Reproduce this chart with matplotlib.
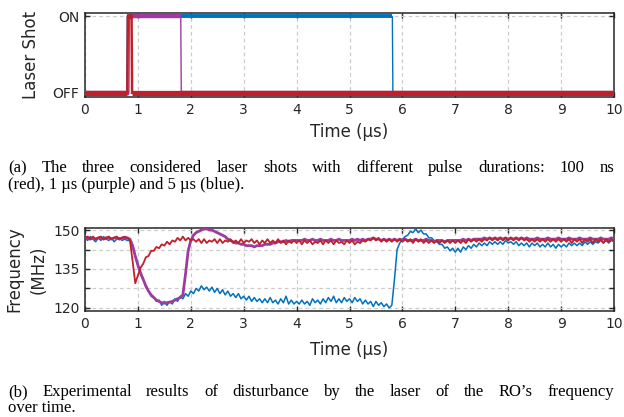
import numpy as np
import matplotlib
matplotlib.use("Agg")
import matplotlib.pyplot as plt

# ---------------- data ----------------
time_step_us = 0.05  # sampling step of the frequency traces

freq_blue = [
    147.0, 146.0, 147.5, 146.5, 145.5, 147.0, 146.0, 147.5, 146.5, 146.0, 147.0, 145.5, 146.5, 147.0, 146.0, 146.5, 146.0, 146.0, 143.5, 140.0,
    136.5, 133.0, 131.0, 128.0, 126.5, 124.5, 124.0, 122.5, 123.0, 121.0, 122.5, 121.0, 122.5, 121.5, 123.5, 122.5, 124.5, 123.5, 125.5, 124.5,
    126.5, 125.5, 127.5, 126.5, 128.5, 127.0, 128.0, 126.5, 128.0, 126.0, 127.5, 125.5, 127.0, 125.0, 126.5, 124.5, 125.5, 124.0, 125.5, 123.5,
    124.5, 123.0, 124.5, 122.5, 124.0, 122.5, 123.5, 122.0, 123.5, 122.0, 124.0, 122.0, 123.0, 121.5, 123.5, 122.0, 124.5, 121.5, 123.0, 121.5,
    122.5, 121.5, 123.0, 121.5, 122.5, 121.0, 123.5, 122.0, 123.0, 121.5, 123.5, 122.0, 124.0, 122.5, 124.5, 122.0, 123.5, 122.0, 124.0, 122.5,
    123.5, 122.0, 124.0, 122.5, 123.5, 121.5, 123.0, 121.5, 122.5, 120.5, 122.5, 121.0, 122.0, 120.5, 121.5, 120.0, 121.0, 131.0, 142.5, 145.0,
    146.5, 147.5, 148.0, 149.5, 149.0, 150.5, 149.0, 150.0, 148.5, 148.5, 147.0, 147.0, 146.0, 145.5, 144.5, 144.5, 143.0, 143.5, 142.0, 143.0,
    141.5, 143.0, 141.5, 143.5, 142.5, 144.0, 143.0, 144.5, 143.5, 145.0, 144.0, 145.0, 144.0, 145.5, 144.5, 145.5, 144.5, 145.5, 144.5, 146.0,
    145.0, 145.5, 144.5, 145.5, 144.0, 145.0, 144.0, 145.0, 143.5, 145.0, 144.0, 145.0, 143.5, 144.5, 143.5, 145.0, 143.5, 144.5, 143.0, 144.5,
    143.5, 144.5, 143.5, 145.0, 144.0, 145.0, 144.0, 145.0, 144.0, 145.5, 144.5, 145.5, 144.5, 145.5, 145.0, 146.0, 145.0, 146.0, 145.0, 146.0,
    145.5,
]

freq_purple = [
    147.0, 147.0, 146.5, 147.0, 146.5, 147.0, 147.0, 146.5, 147.0, 147.0, 146.5, 147.0, 147.0, 146.5, 147.0, 147.0, 147.0, 146.5, 144.0, 140.0,
    136.5, 133.5, 131.0, 128.5, 126.5, 125.0, 124.0, 123.0, 122.5, 122.0, 121.8, 122.0, 122.2, 122.5, 123.0, 123.5, 124.0, 125.0, 133.0, 142.0,
    146.0, 148.0, 149.0, 149.5, 150.0, 150.5, 150.5, 150.0, 150.0, 149.5, 149.0, 148.5, 148.0, 147.5, 146.5, 146.0, 145.5, 145.0, 145.0, 144.5,
    144.5, 144.0, 144.0, 144.0, 143.5, 144.0, 144.0, 144.0, 144.5, 144.5, 144.5, 145.0, 145.0, 145.5, 145.5, 145.5, 146.0, 145.5, 146.0, 146.0,
    146.0, 146.0, 146.0, 146.5, 146.0, 146.0, 146.5, 146.0, 146.0, 146.5, 146.0, 146.0, 146.0, 146.5, 146.0, 146.0, 146.5, 146.0, 146.0, 146.0,
    146.0, 146.5, 146.0, 146.5, 146.0, 146.5, 146.0, 146.5, 146.5, 147.0, 146.5, 146.5, 146.0, 146.5, 146.0, 146.5, 146.0, 146.5, 146.0, 146.5,
    146.0, 146.5, 146.0, 146.0, 146.0, 146.5, 146.0, 146.0, 146.0, 146.5, 146.0, 146.0, 145.5, 146.0, 146.0, 146.0, 145.5, 146.0, 146.0, 146.0,
    146.0, 146.0, 146.0, 146.5, 146.0, 146.5, 146.0, 146.5, 146.5, 146.5, 146.5, 147.0, 146.5, 147.0, 146.5, 147.0, 146.5, 147.0, 146.5, 147.0,
    146.5, 147.0, 146.5, 147.0, 146.5, 147.0, 146.5, 147.0, 146.5, 146.5, 146.5, 147.0, 146.5, 146.5, 146.5, 147.0, 146.5, 146.5, 146.5, 147.0,
    146.5, 146.5, 146.5, 147.0, 146.5, 146.5, 146.5, 147.0, 146.5, 146.5, 146.5, 147.0, 146.5, 146.5, 146.5, 147.0, 146.5, 146.5, 146.5, 147.0,
    146.5,
]

freq_red = [
    147.0, 147.5, 146.5, 147.5, 146.5, 147.0, 147.5, 146.5, 147.0, 147.5, 146.5, 147.0, 147.5, 146.5, 147.0, 147.5, 147.0, 146.0, 138.0, 129.5,
    132.5, 135.5, 137.0, 139.5, 140.0, 142.0, 142.0, 143.5, 143.0, 144.5, 144.0, 145.5, 144.5, 146.0, 145.5, 147.0, 146.0, 147.5, 146.0, 147.0,
    146.0, 146.5, 145.5, 146.5, 145.0, 146.5, 145.0, 146.0, 145.5, 146.5, 145.0, 146.5, 145.0, 146.0, 145.5, 146.5, 145.0, 146.0, 145.0, 146.5,
    145.0, 146.0, 145.5, 146.5, 145.0, 146.0, 144.5, 146.0, 145.0, 146.5, 145.0, 146.0, 145.0, 146.5, 145.0, 146.0, 144.5, 146.0, 145.0, 146.0,
    145.0, 146.0, 144.5, 146.0, 145.0, 146.0, 144.5, 145.5, 145.0, 146.0, 144.5, 146.0, 145.0, 146.0, 144.5, 146.0, 145.0, 145.5, 144.5, 146.0,
    145.0, 146.0, 144.5, 145.5, 145.0, 146.0, 145.5, 146.5, 146.0, 147.0, 146.0, 147.0, 145.5, 146.5, 145.5, 146.5, 145.5, 146.5, 145.5, 146.5,
    145.5, 146.5, 145.5, 146.5, 145.0, 146.5, 145.5, 146.5, 145.0, 146.0, 145.0, 146.0, 145.0, 146.0, 145.0, 146.0, 145.0, 146.0, 145.0, 146.0,
    145.0, 146.0, 145.0, 146.0, 145.0, 146.5, 145.5, 146.5, 145.5, 146.5, 145.5, 146.5, 146.0, 147.0, 146.0, 147.0, 146.0, 147.0, 146.0, 147.0,
    146.0, 147.0, 146.0, 147.0, 146.0, 147.0, 146.0, 146.5, 145.5, 146.5, 145.5, 146.5, 145.5, 146.5, 145.5, 146.5, 145.5, 146.5, 145.5, 146.5,
    145.5, 146.5, 145.5, 146.5, 145.0, 146.5, 145.5, 146.5, 145.0, 146.5, 145.5, 146.5, 145.0, 146.5, 145.5, 146.5, 145.0, 146.5, 145.5, 146.5,
    146.0,
]

# laser shot (0 = OFF, 1 = ON) as step points
shot_blue_t = [0.0, 0.79, 0.80, 5.81, 5.82, 10.0]
shot_blue = [0, 0, 1, 1, 0, 0]
shot_purple_t = [0.0, 0.83, 0.84, 1.81, 1.82, 10.0]
shot_purple = [0, 0, 1, 1, 0, 0]
shot_red_t = [0.0, 0.80, 0.81, 0.88, 0.89, 10.0]
shot_red = [0, 0, 1, 1, 0, 0]

x_ticks = list(range(0, 11))
shot_ticks = [0, 1]
shot_tick_labels = ["OFF", "ON"]
freq_ticks = [120, 127.5, 135, 142.5, 150]
freq_tick_labels = ["120", "", "135", "", "150"]

caption_a = ["(a) The three considered laser shots with different pulse durations: 100 ns",
             "(red), 1 µs (purple) and 5 µs (blue)."]
caption_b = ["(b) Experimental results of disturbance by the laser of the RO’s frequency",
             "over time."]

# ---------------- style ----------------
C_BLUE = "#0072BD"
C_PURPLE = "#9E3C9E"
C_RED = "#C0202A"
C_AX = "#262626"

W, H = 624, 417
fig = plt.figure(figsize=(W / 100, H / 100), dpi=100)


def style_axes(ax):
    for s in ax.spines.values():
        s.set_linewidth(1.1)
        s.set_color(C_AX)
    ax.tick_params(direction="in", top=True, right=True, length=3.5, width=1.0,
                   colors=C_AX, labelsize=10, pad=4)
    ax.grid(True, linestyle=(0, (3, 2.5)), color="#cccccc", linewidth=0.9)
    ax.set_axisbelow(True)
    ax.set_xlim(0, 10)
    ax.set_xticks(x_ticks)
    ax.set_xticklabels([str(v) for v in x_ticks])


# ---- top: laser shot ----
ax1 = fig.add_axes([85 / W, 1 - 97 / H, 529 / W, 84 / H])
style_axes(ax1)


def plot_shot(ax, t, v, color, thin, thick, z):
    ax.plot(t, v, color=color, lw=thin, zorder=z, solid_joinstyle="miter")
    for i in range(len(t) - 1):
        if v[i] == v[i + 1]:
            ax.plot([t[i], t[i + 1]], [v[i], v[i + 1]], color=color, lw=thick,
                    zorder=z, solid_capstyle="butt")


plot_shot(ax1, shot_blue_t, shot_blue, C_BLUE, 1.0, 2.8, 3)
plot_shot(ax1, shot_purple_t, shot_purple, C_PURPLE, 1.0, 3.2, 4)
plot_shot(ax1, shot_red_t, shot_red, C_RED, 1.8, 3.8, 5)
ax1.set_ylim(-0.055, 1.045)
ax1.set_yticks(shot_ticks)
ax1.set_yticklabels(shot_tick_labels)
ax1.set_ylabel("Laser Shot", fontsize=12, color=C_AX)
ax1.yaxis.set_label_coords(-0.086, 0.5)
ax1.set_xlabel("Time (µs)", fontsize=12, color=C_AX)
ax1.xaxis.set_label_coords(0.5, -0.31)

# ---- bottom: frequency ----
ax2 = fig.add_axes([85 / W, 1 - 311 / H, 529 / W, 83 / H])
style_axes(ax2)
t_freq = np.arange(len(freq_blue)) * time_step_us
ax2.plot(t_freq, freq_blue, color=C_BLUE, lw=1.1, zorder=3)
ax2.plot(t_freq, freq_purple, color=C_PURPLE, lw=2.0, zorder=4)
ax2.plot(t_freq, freq_red, color=C_RED, lw=1.3, zorder=5)
ax2.set_ylim(118.8, 150.8)
ax2.set_yticks(freq_ticks)
ax2.set_yticklabels(freq_tick_labels)
ax2.set_ylabel("Frequency\n(MHz)", fontsize=12, color=C_AX, linespacing=1.5)
ax2.yaxis.set_label_coords(-0.070, 0.5)
ax2.set_xlabel("Time (µs)", fontsize=12, color=C_AX)
ax2.xaxis.set_label_coords(0.5, -0.36)

# ---- captions (justified first lines, like LaTeX) ----
renderer = fig.canvas.get_renderer()
cap_kw = dict(family="Liberation Serif", fontsize=12, color="black", va="baseline")


def justified_line(text, ybase_px, x0_px=8, x1_px=614):
    words = text.split(" ")
    objs = [fig.text(0, 1 - ybase_px / H, w, **cap_kw) for w in words]
    widths = [o.get_window_extent(renderer).width for o in objs]
    gap = ((x1_px - x0_px) - sum(widths)) / (len(words) - 1)
    x = x0_px
    for o, w in zip(objs, widths):
        o.set_x(x / W)
        x += w + gap


def plain_line(text, ybase_px, x0_px=8):
    fig.text(x0_px / W, 1 - ybase_px / H, text, **cap_kw)


justified_line(caption_a[0], 172)
plain_line(caption_a[1], 189)
justified_line(caption_b[0], 396)
plain_line(caption_b[1], 412)

fig.savefig("out.png", dpi=100)
